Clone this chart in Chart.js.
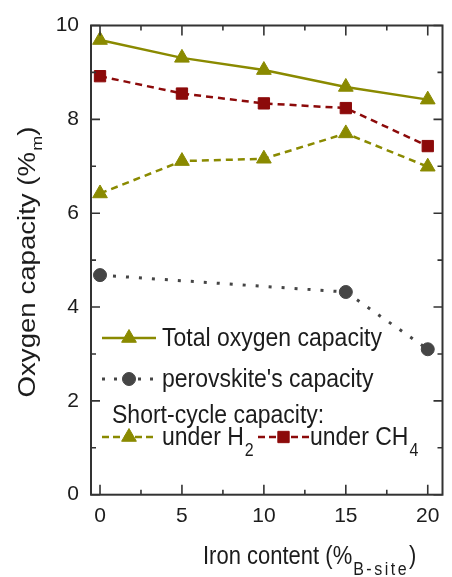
<!DOCTYPE html>
<html>
<head>
<meta charset="utf-8">
<title>Oxygen capacity vs iron content</title>
<script src="https://cdn.jsdelivr.net/npm/chart.js@4.4.0/dist/chart.umd.min.js"></script>
<style>
  body { margin: 0; background: #fff; }
  .chart-container { position: relative; width: 452px; height: 577px; }
</style>
</head>
<body>
<div class="chart-container"><canvas id="oxygenChart"></canvas></div>
<script>
const ironContent = [0, 5, 10, 15, 20];
const totalCapacity = [9.69, 9.31, 9.05, 8.69, 8.42];
const ch4Capacity = [8.92, 8.55, 8.34, 8.24, 7.43];
const h2Capacity = [6.42, 7.11, 7.16, 7.70, 6.99];
const perovskiteIron = [0, 15, 20];
const perovskiteCapacity = [4.68, 4.32, 3.10];

const xTicks = [0, 5, 10, 15, 20];
const xMinorTicks = [2.5, 7.5, 12.5, 17.5];
const yTicks = [0, 2, 4, 6, 8, 10];
const yMinorTicks = [1, 3, 5, 7, 9];

const OLIVE = '#8a8a00';
const DARK_RED = '#8c0a0a';
const GREY = '#454545';
const INK = '#1c1c1c';
const FONT = '"Liberation Sans", Arial, sans-serif';
const STRETCH = 1.15; // lettering is a little taller than it is wide

const toPoints = (xs, ys) => xs.map((x, i) => ({ x, y: ys[i] }));

function drawMarker(ctx, style, x, y, r, color) {
  ctx.save();
  ctx.fillStyle = color;
  ctx.strokeStyle = color;
  ctx.lineWidth = 1;
  ctx.setLineDash([]);
  ctx.beginPath();
  if (style === 'triangle') {
    ctx.moveTo(x, y - r);
    ctx.lineTo(x + r * 0.866, y + r * 0.5);
    ctx.lineTo(x - r * 0.866, y + r * 0.5);
    ctx.closePath();
  } else if (style === 'rect') {
    const s = r * Math.SQRT1_2;
    ctx.rect(x - s, y - s, 2 * s, 2 * s);
  } else {
    ctx.arc(x, y, r, 0, Math.PI * 2);
  }
  ctx.fill();
  ctx.stroke();
  ctx.restore();
}

// text with an optional subscript, stretched vertically; returns the end x
function drawLabel(ctx, x, y, text, size, sub, after, subSize, subSpacing) {
  ctx.save();
  ctx.translate(x, y);
  ctx.scale(1, STRETCH);
  ctx.fillStyle = INK;
  ctx.textAlign = 'left';
  ctx.textBaseline = 'alphabetic';
  ctx.font = size + 'px ' + FONT;
  ctx.fillText(text, 0, 0);
  let w = ctx.measureText(text).width;
  if (sub) {
    ctx.font = (subSize || Math.round(size * 0.68)) + 'px ' + FONT;
    w += 1;
    for (const ch of sub) {
      ctx.fillText(ch, w, size * 0.42);
      w += ctx.measureText(ch).width + (subSpacing || 0);
    }
    if (after) {
      ctx.font = size + 'px ' + FONT;
      ctx.fillText(after, w, 0);
      w += ctx.measureText(after).width;
    }
  }
  ctx.restore();
  return x + w;
}

function drawSample(ctx, x1, x2, y, color, width, dash, marker, r) {
  ctx.save();
  ctx.strokeStyle = color;
  ctx.lineWidth = width;
  ctx.setLineDash(dash);
  ctx.beginPath();
  ctx.moveTo(x1, y);
  ctx.lineTo(x2, y);
  ctx.stroke();
  ctx.restore();
  drawMarker(ctx, marker, (x1 + x2) / 2, y, r, color);
}

const frameAndTicks = {
  id: 'frameAndTicks',
  afterDraw(chart) {
    const { ctx, chartArea: a, scales: { x, y } } = chart;
    ctx.save();
    ctx.strokeStyle = '#333';
    ctx.lineWidth = 1.6;
    ctx.beginPath();
    const tick = (vals, len, isX) => {
      vals.forEach(v => {
        if (isX) {
          const px = x.getPixelForValue(v);
          ctx.moveTo(px, a.bottom); ctx.lineTo(px, a.bottom - len);
          ctx.moveTo(px, a.top); ctx.lineTo(px, a.top + len);
        } else {
          const py = y.getPixelForValue(v);
          ctx.moveTo(a.left, py); ctx.lineTo(a.left + len, py);
          ctx.moveTo(a.right, py); ctx.lineTo(a.right - len, py);
        }
      });
    };
    tick(xTicks, 10, true);
    tick(xMinorTicks, 5, true);
    tick(yTicks, 9, false);
    tick(yMinorTicks, 5, false);
    ctx.stroke();
    ctx.lineWidth = 2;
    ctx.strokeRect(a.left, a.top, a.right - a.left, a.bottom - a.top);
    ctx.restore();
  }
};

const legendAndTitles = {
  id: 'legendAndTitles',
  afterDraw(chart) {
    const ctx = chart.ctx;

    // legend inside the plot
    drawSample(ctx, 102, 156, 338, OLIVE, 2.5, [], 'triangle', 8.5);
    drawLabel(ctx, 162, 346, 'Total oxygen capacity', 23);
    drawSample(ctx, 102, 156, 379, GREY, 3, [3, 9], 'circle', 6.5);
    drawLabel(ctx, 162, 387, "perovskite's capacity", 23);
    drawLabel(ctx, 112, 423, 'Short-cycle capacity:', 23);
    drawSample(ctx, 102, 156, 437, OLIVE, 2.5, [7, 4], 'triangle', 8.5);
    drawLabel(ctx, 162, 445, 'under H', 23, '2');
    drawSample(ctx, 258, 309, 437, DARK_RED, 2.5, [7, 4], 'rect', 8);
    drawLabel(ctx, 310, 445, 'under CH', 23, '4');

    // x axis title
    drawLabel(ctx, 203, 564, 'Iron content (%', 22, 'B-site', ')', 16, 2.5);

    // y axis title, rotated
    ctx.save();
    ctx.translate(35, 262);
    ctx.rotate(-Math.PI / 2);
    ctx.scale(1.2, 1);
    ctx.fillStyle = INK;
    ctx.textBaseline = 'alphabetic';
    ctx.font = '23px ' + FONT;
    const main = 'Oxygen capacity (%';
    const mainW = ctx.measureText(main).width;
    ctx.font = '15px ' + FONT;
    const subW = ctx.measureText('m').width;
    ctx.font = '23px ' + FONT;
    const closeW = ctx.measureText(')').width;
    let cx = -(mainW + subW + closeW + 1) / 2;
    ctx.fillText(main, cx, 0);
    cx += mainW + 1;
    ctx.font = '15px ' + FONT;
    ctx.fillText('m', cx, 7);
    cx += subW;
    ctx.font = '23px ' + FONT;
    ctx.fillText(')', cx, 0);
    ctx.restore();
  }
};

const tickFont = { size: 21, family: FONT };

new Chart(document.getElementById('oxygenChart'), {
  type: 'line',
  data: {
    datasets: [
      {
        label: 'Total oxygen capacity',
        data: toPoints(ironContent, totalCapacity),
        borderColor: OLIVE,
        backgroundColor: OLIVE,
        borderWidth: 2.5,
        pointStyle: 'triangle',
        pointRadius: 8.5,
        pointBorderWidth: 1
      },
      {
        label: 'under CH4',
        data: toPoints(ironContent, ch4Capacity),
        borderColor: DARK_RED,
        backgroundColor: DARK_RED,
        borderWidth: 2.5,
        borderDash: [7, 5],
        pointStyle: 'rect',
        pointRadius: 8,
        pointBorderWidth: 1
      },
      {
        label: 'under H2',
        data: toPoints(ironContent, h2Capacity),
        borderColor: OLIVE,
        backgroundColor: OLIVE,
        borderWidth: 2.5,
        borderDash: [7, 5],
        pointStyle: 'triangle',
        pointRadius: 8.5,
        pointBorderWidth: 1
      },
      {
        label: "perovskite's capacity",
        data: toPoints(perovskiteIron, perovskiteCapacity),
        borderColor: GREY,
        backgroundColor: GREY,
        borderWidth: 3,
        borderDash: [3, 10],
        pointStyle: 'circle',
        pointRadius: 6.5,
        pointBorderWidth: 1
      }
    ]
  },
  options: {
    responsive: true,
    maintainAspectRatio: false,
    animation: false,
    layout: { padding: { top: 25.5, right: 4, left: 0, bottom: 0 } },
    plugins: {
      legend: { display: false },
      tooltip: { enabled: false }
    },
    scales: {
      x: {
        type: 'linear',
        min: -0.55,
        max: 20.9,
        afterFit: s => { s.height = 82.3; },
        afterBuildTicks: s => { s.ticks = xTicks.map(v => ({ value: v })); },
        grid: { display: false, drawTicks: false },
        border: { display: false },
        ticks: { font: tickFont, color: INK, padding: 9 }
      },
      y: {
        min: 0,
        max: 10,
        afterFit: s => { s.width = 91; },
        afterBuildTicks: s => { s.ticks = yTicks.map(v => ({ value: v })); },
        grid: { display: false, drawTicks: false },
        border: { display: false },
        ticks: { font: tickFont, color: INK, padding: 12 }
      }
    }
  },
  plugins: [frameAndTicks, legendAndTitles]
});
</script>
</body>
</html>
